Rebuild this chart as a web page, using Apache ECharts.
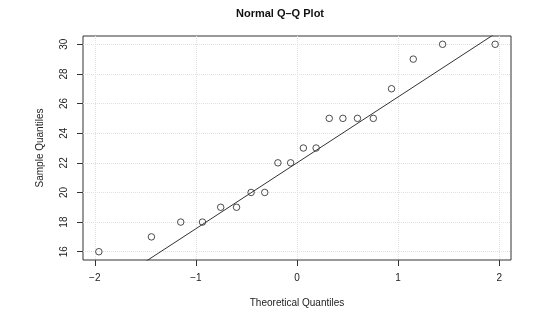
<!DOCTYPE html>
<html>
<head>
<meta charset="utf-8">
<script src="https://cdn.jsdelivr.net/npm/echarts@6/dist/echarts.min.js"></script>
<style>
  html, body { margin: 0; padding: 0; background: #fff; }
  #chart { width: 560px; height: 322px; }
</style>
</head>
<body>
<div id="chart"></div>
<script>
// theoretical quantiles (qnorm of ppoints(20)) and the sorted sample
const theoretical = [-1.960, -1.440, -1.150, -0.935, -0.755, -0.598, -0.454, -0.319, -0.189, -0.063,
                      0.063,  0.189,  0.319,  0.454,  0.598,  0.755,  0.935,  1.150,  1.440,  1.960]
const sample = [16, 17, 18, 18, 19, 19, 20, 20, 22, 22, 23, 23, 25, 25, 25, 25, 27, 29, 30, 30]
const xTicks = [-2, -1, 0, 1, 2]
const yTicks = [16, 18, 20, 22, 24, 26, 28, 30]

// qqline through the 1st and 3rd quartiles
function quantile7(arr, p) {
    const s = arr.slice().sort((a, b) => a - b)
    const h = (s.length - 1) * p
    const lo = Math.floor(h)
    return s[lo] + (h - lo) * ((s[lo + 1] !== undefined ? s[lo + 1] : s[lo]) - s[lo])
}
const q1 = quantile7(sample, 0.25), q3 = quantile7(sample, 0.75)
const z = 0.6744897501960817
const slope = (q3 - q1) / (2 * z)
const intercept = q1 + slope * z

// R style 4% padding around the data range
const xr = [Math.min(...theoretical), Math.max(...theoretical)]
const yr = [Math.min(...sample), Math.max(...sample)]
const xPad = (xr[1] - xr[0]) * 0.04, yPad = (yr[1] - yr[0]) * 0.04
const xMin = xr[0] - xPad, xMax = xr[1] + xPad
const yMin = yr[0] - yPad, yMax = yr[1] + yPad

const points = theoretical.map((t, i) => [t, sample[i]])
const lineData = [[xMin, intercept + slope * xMin], [xMax, intercept + slope * xMax]]

const font = "'Liberation Sans', Arial, Helvetica, sans-serif"
let chart = echarts.init(document.getElementById('chart'))
let option = {
    backgroundColor: '#ffffff',
    animation: false,
    textStyle: { fontFamily: font },
    title: {
        text: 'Normal Q\u2013Q Plot',
        left: 'center',
        top: 3,
        textStyle: { fontFamily: font, fontSize: 11, fontWeight: 'bold', color: '#111' }
    },
    grid: {
        left: 83, right: 49, top: 36, bottom: 62,
        show: true, borderColor: '#333', borderWidth: 1, backgroundColor: 'transparent'
    },
    xAxis: {
        type: 'value',
        min: xMin, max: xMax,
        splitNumber: 4,
        name: 'Theoretical Quantiles',
        nameLocation: 'middle',
        nameGap: 38,
        nameTextStyle: { fontFamily: font, fontSize: 10, color: '#222' },
        axisLine: { show: false, onZero: false },
        axisTick: { show: true, inside: false, length: 6, customValues: xTicks, lineStyle: { color: '#333' } },
        axisLabel: {
            customValues: xTicks, margin: 13, fontSize: 10, color: '#222', fontFamily: font,
            formatter: v => String(v).replace('-', '\u2212')
        },
        splitLine: { show: true, lineStyle: { color: '#e0e0e0', type: 'dotted', width: 1 } }
    },
    yAxis: {
        type: 'value',
        min: yMin, max: yMax,
        splitNumber: 7,
        name: 'Sample Quantiles',
        nameLocation: 'middle',
        nameGap: 38,
        nameTextStyle: { fontFamily: font, fontSize: 10, color: '#222' },
        axisLine: { show: false, onZero: false },
        axisTick: { show: true, inside: false, length: 6, customValues: yTicks, lineStyle: { color: '#333' } },
        axisLabel: {
            customValues: yTicks, rotate: 90, margin: 14, fontSize: 10, color: '#222', fontFamily: font
        },
        splitLine: { show: true, lineStyle: { color: '#e0e0e0', type: 'dotted', width: 1 } }
    },
    series: [
        {
            type: 'line',
            data: lineData,
            symbol: 'none',
            clip: true,
            lineStyle: { color: '#333', width: 1 },
            silent: true
        },
        {
            type: 'scatter',
            data: points,
            symbol: 'circle',
            symbolSize: 6.5,
            itemStyle: { color: 'rgba(0,0,0,0)', borderColor: '#222', borderWidth: 1 }
        }
    ]
}
chart.setOption(option)
</script>
</body>
</html>
